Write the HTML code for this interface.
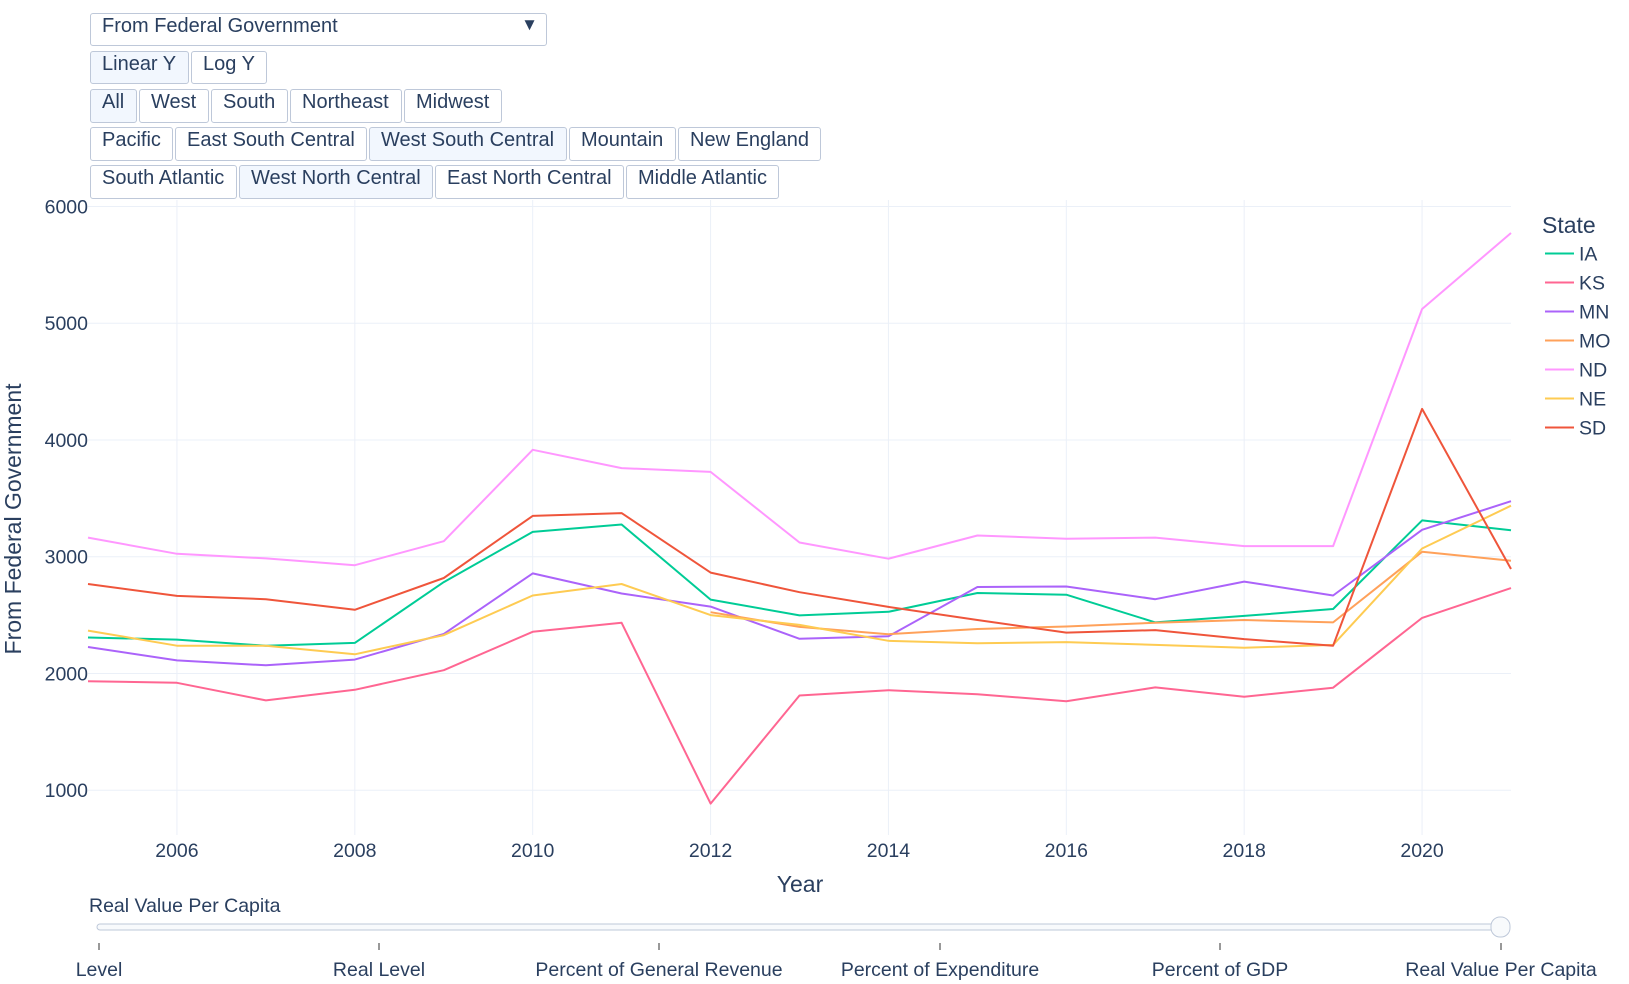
<!DOCTYPE html>
<html><head><meta charset="utf-8">
<style>
body{margin:0;background:#fff;font-family:"Liberation Sans",sans-serif;color:#2a3f5f;}
svg text{font-family:"Liberation Sans",sans-serif;fill:#2a3f5f;}
.btn{position:absolute;box-sizing:border-box;border:1px solid #bec8d9;border-radius:3px;background:#fff;font-size:20px;padding:1px 0 0 11px;color:#2a3f5f;white-space:nowrap;}
.act{background:#f2f7fe;}
</style></head><body>
<div style="position:relative;width:1629px;height:984px;overflow:hidden">
<svg id="chart" width="1629" height="984" style="position:absolute;left:0;top:0"></svg>
<div class="btn" style="left:90px;top:13px;width:457px;height:33px">From Federal Government<span style="position:absolute;right:8px;top:1px;font-size:17px">▼</span></div>
<div class="btn act" style="left:90px;top:51px;width:99px;height:33px">Linear Y</div>
<div class="btn" style="left:191px;top:51px;width:76px;height:33px">Log Y</div>
<div class="btn act" style="left:90px;top:89px;width:47px;height:34px">All</div>
<div class="btn" style="left:139px;top:89px;width:70px;height:34px">West</div>
<div class="btn" style="left:211px;top:89px;width:77px;height:34px">South</div>
<div class="btn" style="left:290px;top:89px;width:112px;height:34px">Northeast</div>
<div class="btn" style="left:404px;top:89px;width:98px;height:34px">Midwest</div>
<div class="btn" style="left:90px;top:127px;width:83px;height:34px">Pacific</div>
<div class="btn" style="left:175px;top:127px;width:192px;height:34px">East South Central</div>
<div class="btn act" style="left:369px;top:127px;width:198px;height:34px">West South Central</div>
<div class="btn" style="left:569px;top:127px;width:107px;height:34px">Mountain</div>
<div class="btn" style="left:678px;top:127px;width:143px;height:34px">New England</div>
<div class="btn" style="left:90px;top:165px;width:147px;height:34px">South Atlantic</div>
<div class="btn act" style="left:239px;top:165px;width:194px;height:34px">West North Central</div>
<div class="btn" style="left:435px;top:165px;width:189px;height:34px">East North Central</div>
<div class="btn" style="left:626px;top:165px;width:153px;height:34px">Middle Atlantic</div>
</div>
<script>
const years=[2005,2006,2007,2008,2009,2010,2011,2012,2013,2014,2015,2016,2017,2018,2019,2020,2021];
const states=["IA","KS","MN","MO","ND","NE","SD"];
const colors=["#00cc96","#FF6692","#ab63fa","#FFA15A","#FF97FF","#FECB52","#EF553B"];
const IA=[2308,2290,2238,2262,2783,3213,3276,2633,2497,2528,2689,2675,2437,2493,2552,3311,3227];
const KS=[1934,1920,1769,1860,2028,2357,2434,885,1811,1857,1822,1762,1881,1800,1878,2476,2731];
const MN=[2227,2112,2070,2119,2339,2857,2685,2573,2297,2318,2741,2745,2636,2787,2668,3231,3476];
const MO=[null,null,null,null,null,null,null,2525,2399,2336,2381,2402,2434,2458,2437,3042,2965];
const ND=[3164,3025,2986,2927,3133,3916,3759,3727,3122,2983,3182,3154,3164,3091,3091,5122,5773];
const NE=[2367,2238,2238,2164,2329,2668,2766,2500,2416,2280,2259,2269,2245,2220,2245,3070,3437];
const SD=[2766,2664,2636,2545,2818,3350,3374,2864,2696,2570,2458,2350,2371,2294,2238,4266,2895];
const series=[IA,KS,MN,MO,ND,NE,SD];
const yTicks=[1000,2000,3000,4000,5000,6000];
const xTicks=[2006,2008,2010,2012,2014,2016,2018,2020];
const sliderLabels=["Level","Real Level","Percent of General Revenue","Percent of Expenditure","Percent of GDP","Real Value Per Capita"];
const NS="http://www.w3.org/2000/svg";
const svg=document.getElementById('chart');
const X0=88,X1=1511,Y6=206.5,Y1=790.2;
const xs=v=>X0+(v-2005)/(2021-2005)*(X1-X0);
const ys=v=>Y6+(6000-v)/5000*(Y1-Y6);
function el(t,a,txt){const e=document.createElementNS(NS,t);for(const k in a)e.setAttribute(k,a[k]);if(txt!=null)e.textContent=txt;svg.appendChild(e);return e;}
yTicks.forEach(v=>{
 const g=el('line',{x1:X0,x2:X1,y1:ys(v),y2:ys(v),stroke:'#ebf0f8','stroke-width':1});
 
 
 const t=el('text',{x:X0,y:ys(v)+7,'text-anchor':'end','font-size':19.5},v);
 
 
});
xTicks.forEach(v=>{
 const g=el('line',{x1:xs(v),x2:xs(v),y1:200,y2:835,stroke:'#ebf0f8','stroke-width':1});
 
 
 const t=el('text',{x:xs(v),y:857,'text-anchor':'middle','font-size':19.5},v);
 
 
});
series.forEach((s,i)=>{
 let d='';let started=false;
 s.forEach((v,j)=>{if(v==null)return;d+=(started?'L':'M')+xs(years[j]).toFixed(1)+','+ys(v).toFixed(1);started=true;});
 const p=el('path',{d:d,fill:'none',stroke:colors[i],'stroke-width':2,'stroke-linejoin':'round'});
 
 
 const ly=253.5+i*29;
 const l=el('line',{x1:1545,x2:1574,y1:ly,y2:ly,stroke:colors[i],'stroke-width':2});
 
 
 const t=el('text',{x:1579,y:ly+7,'font-size':19.5},states[i]);
 
 
});
let t;
t=el('text',{x:1542,y:233,'font-size':23},'State');


t=el('text',{x:800,y:892,'text-anchor':'middle','font-size':23},'Year');


t=el('text',{x:0,y:0,'text-anchor':'middle','font-size':23,transform:'translate(21,519) rotate(-90)'},'From Federal Government');


t=el('text',{x:89,y:912,'font-size':19.5},'Real Value Per Capita');


const r=el('rect',{x:97,y:924,width:1406,height:6,rx:3,fill:'#f8fafc',stroke:'#bec8d9','stroke-width':1});


const sx=[99,379,659,940,1220,1501];
sliderLabels.forEach((s,i)=>{
 const k=el('line',{x1:sx[i],x2:sx[i],y1:943,y2:950,stroke:'#333','stroke-width':1});
 
 
 const tt=el('text',{x:sx[i],y:976,'text-anchor':'middle','font-size':19.5},s);
 
 
});
const h=el('rect',{x:1491,y:917,width:19,height:20,rx:9,fill:'#f8fafc',stroke:'#bec8d9','stroke-width':1});


</script>
</body></html>
